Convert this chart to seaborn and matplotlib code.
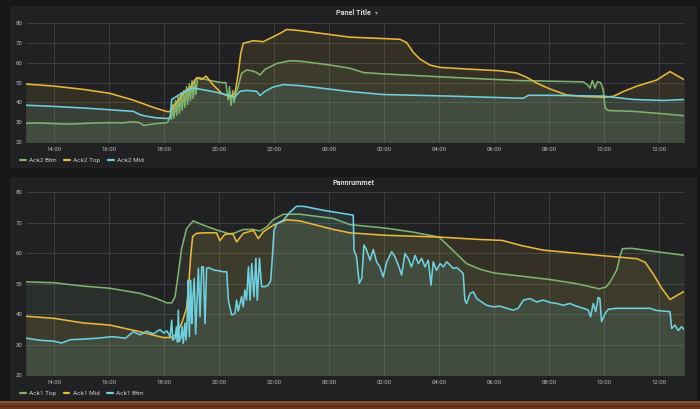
import pandas as pd
import matplotlib
matplotlib.use("Agg")
import matplotlib.pyplot as plt
import matplotlib.dates as mdates
from matplotlib.lines import Line2D
from matplotlib.patches import Rectangle
import seaborn as sns

# Times are hours since midnight of day 1 (values above 24 are the next day)

# ---- Panel Title ----
ack2_btm_t = [12.97, 13.5, 14.0, 14.5, 15.0, 15.5, 16.0, 16.5, 16.88, 17.1, 17.27, 17.5, 17.8, 18.1,
              18.15, 18.22, 18.27, 18.32, 18.36, 18.42, 18.46, 18.52, 18.56, 18.62, 18.66, 18.72, 18.76,
              18.82, 18.86, 18.92, 18.96, 19.02, 19.06, 19.12, 19.16, 19.22, 19.3, 19.4, 19.55, 19.7,
              19.9, 20.1, 20.25, 20.3, 20.34, 20.38, 20.44, 20.5, 20.55, 20.6, 20.7, 20.82, 21.0, 21.2,
              21.37, 21.49, 21.67, 21.9, 22.1, 22.58, 23.0, 24.04, 24.76, 25.25, 26.0, 28.4, 30.8, 33.25,
              33.4, 33.49, 33.58, 33.67, 33.76, 33.88, 33.97, 34.04, 34.16, 35.07, 36.2, 36.92]
ack2_btm_v = [29.5, 29.6, 29.3, 29.0, 29.3, 29.6, 29.8, 29.7, 30.2, 29.8, 28.4, 28.9, 29.4, 29.7,
              30.5, 33, 31.5, 39, 32, 41, 33.5, 43, 34.5, 45, 36, 46, 37.5,
              48, 39, 49.5, 41, 51, 42, 51.5, 44, 52.5, 52.5, 52.0, 51.5, 51.0,
              50.5, 50.0, 50.0, 44.0, 41.3, 48.0, 38.5, 46.0, 40.0, 44.0, 48.0, 54.7, 56.4, 56.0,
              55.1, 53.9, 56.7, 58.3, 59.7, 61.1, 60.8, 58.9, 57.3, 55.1, 54.4, 52.7, 51.1, 50.4,
              48.9, 47.2, 51.1, 47.2, 50.5, 50.0, 46.5, 37.2, 35.9, 35.5, 34.2, 33.3]

ack2_top_t = [12.97, 13.97, 15.06, 16.03, 16.88, 17.61, 18.1, 18.22, 18.34, 18.52, 18.76, 19.0, 19.19,
              19.37, 19.53, 19.79, 20.1, 20.4, 20.58, 20.7, 20.79, 20.88, 21.25, 21.61, 21.97, 22.22,
              22.46, 22.94, 24.16, 24.76, 25.97, 26.58, 26.82, 27.07, 27.31, 27.67, 28.04, 29.0, 30.22,
              30.82, 31.19, 31.55, 32.04, 32.64, 33.25, 33.97, 34.34, 34.7, 35.19, 35.91, 36.4, 36.7, 36.92]
ack2_top_v = [49.3, 48.3, 46.6, 44.6, 41.2, 37.5, 35.4, 35.4, 37.9, 41.2, 45.4, 48.3, 52.6,
              51.6, 53.3, 48.8, 44.6, 42.9, 44.6, 54.7, 64.8, 69.9, 71.2, 70.7, 73.2, 74.9,
              76.9, 76.3, 74.1, 73.0, 72.3, 71.9, 70.3, 65.2, 61.9, 58.9, 57.7, 56.9, 56.0,
              54.9, 52.7, 49.8, 46.8, 43.8, 43.0, 42.6, 43.1, 45.5, 48.2, 51.3, 55.6, 53.2, 51.5]

ack2_mid_t = [12.97, 13.97, 15.06, 16.03, 16.88, 17.13, 17.37, 17.73, 18.1, 18.22, 18.28, 18.46, 18.76,
              19.06, 19.55, 20.01, 20.35, 20.58, 20.76, 21.0, 21.37, 21.49, 21.67, 21.97, 22.34, 22.94,
              24.16, 24.76, 25.97, 28.4, 30.82, 31.07, 31.25, 32.04, 33.97, 35.07, 36.16, 36.92]
ack2_mid_v = [38.6, 38.0, 37.2, 36.3, 35.5, 33.8, 33.0, 32.2, 31.9, 32.2, 41.5, 43.1, 45.6,
              47.3, 46.1, 44.8, 43.5, 42.8, 45.6, 46.1, 45.6, 43.5, 45.6, 47.8, 49.0, 48.5,
              46.5, 45.5, 44.0, 43.2, 42.2, 42.1, 43.6, 43.6, 43.2, 41.5, 41.0, 41.5]

# ---- Pannrummet ----
ack1_top_t = [12.97, 14.0, 15.06, 16.03, 17.13, 17.73, 18.1, 18.28, 18.4, 18.52, 18.64, 18.82, 19.06,
              19.3, 19.67, 20.03, 20.45, 20.88, 21.25, 21.49, 21.73, 21.97, 22.34, 22.94, 24.16, 24.76,
              26.0, 27.0, 28.0, 28.5, 29.0, 29.5, 30.0, 32.0, 33.0, 33.83, 34.08, 34.25, 34.46, 34.58,
              34.67, 35.0, 35.5, 36.0, 36.92]
ack1_top_v = [50.6, 50.3, 49.2, 48.5, 46.8, 45.1, 43.7, 43.7, 45.7, 53.3, 61.5, 68.1, 70.6,
              69.7, 68.4, 67.3, 66.2, 67.8, 67.8, 67.3, 68.6, 71.0, 72.8, 72.8, 71.4, 69.4,
              68.3, 67.0, 65.3, 61.0, 56.6, 54.7, 53.5, 51.4, 50.0, 48.3, 48.9, 51.0, 54.4, 59.0,
              61.5, 61.6, 61.0, 60.4, 59.3]

ack1_mid_t = [12.97, 14.0, 15.06, 16.03, 17.13, 17.61, 17.97, 18.28, 18.46, 18.64, 18.82, 18.9, 18.97,
              19.04, 19.18, 19.43, 19.91, 20.03, 20.21, 20.5, 20.64, 20.88, 21.25, 21.43, 21.61, 21.97,
              22.46, 22.94, 24.16, 24.76, 26.0, 28.0, 29.5, 30.3, 31.0, 31.8, 33.8, 35.2, 35.5, 35.8,
              36.1, 36.4, 36.92]
ack1_mid_v = [39.3, 38.6, 37.1, 36.4, 34.2, 33.1, 32.3, 32.3, 33.6, 36.9, 41.9, 50.0, 59.0,
              65.5, 66.5, 66.7, 66.7, 64.1, 66.2, 66.5, 63.7, 66.5, 67.5, 64.8, 67.0, 69.2,
              71.0, 70.6, 67.8, 66.7, 65.9, 65.3, 64.5, 64.2, 62.5, 61.0, 59.3, 58.2, 57.0, 53.0,
              48.5, 44.8, 47.5]

ack1_btm_t = [12.97, 13.5, 14.0, 14.27, 14.6, 15.1, 15.6, 16.1, 16.6, 16.88, 17.13, 17.37, 17.61, 17.85,
              18.0, 18.1, 18.2, 18.22, 18.28, 18.32, 18.4, 18.45, 18.49, 18.52, 18.56, 18.62, 18.66,
              18.7, 18.76, 18.8, 18.85, 18.88, 18.92, 18.97, 19.01, 19.04, 19.1, 19.15, 19.25, 19.31,
              19.37, 19.43, 19.49, 19.55, 19.61, 19.8, 20.0, 20.15, 20.28, 20.34, 20.46, 20.58, 20.64,
              20.7, 20.82, 20.88, 20.94, 21.0, 21.07, 21.13, 21.19, 21.27, 21.34, 21.39, 21.47, 21.55,
              21.67, 21.79, 21.88, 21.94, 22.0, 22.1, 22.34, 22.58, 22.82, 23.07, 23.79, 24.88, 24.91,
              25.0, 25.1, 25.19, 25.27, 25.37, 25.49, 25.61, 25.73, 25.85, 25.97, 26.1, 26.28, 26.4,
              26.52, 26.64, 26.76, 26.88, 27.0, 27.13, 27.25, 27.37, 27.49, 27.61, 27.71, 27.79, 27.91,
              28.04, 28.16, 28.28, 28.4, 28.52, 28.64, 28.76, 28.88, 28.94, 29.0, 29.13, 29.25, 29.37,
              29.55, 29.73, 29.97, 30.22, 30.46, 30.7, 30.88, 31.07, 31.31, 31.55, 31.79, 32.04, 32.28,
              32.52, 32.76, 33.0, 33.25, 33.43, 33.51, 33.61, 33.7, 33.79, 33.85, 33.91, 34.04, 34.16,
              34.46, 35.07, 35.67, 35.91, 36.4, 36.46, 36.58, 36.7, 36.82, 36.92]
ack1_btm_v = [32.1, 31.4, 31.1, 30.5, 31.6, 31.8, 32.1, 32.6, 32.1, 34.2, 33.2, 34.4, 33.5, 34.9,
              33.8, 34.5, 33.0, 32.6, 38.0, 31.5, 32.0, 35.8, 30.8, 41.3, 31.0, 32.5, 36.0,
              30.4, 37.0, 31.5, 40.0, 51.1, 32.6, 51.1, 36.9, 44.0, 51.7, 33.4, 55.0, 39.1,
              55.5, 55.5, 36.9, 55.0, 55.3, 54.5, 54.2, 53.9, 53.9, 44.6, 39.7, 40.2, 44.6,
              41.0, 45.7, 42.4, 47.9, 44.6, 55.5, 44.6, 56.6, 45.7, 58.3, 44.6, 58.3, 49.0,
              49.0, 49.5, 51.0, 58.8, 67.5, 69.7, 70.8, 73.5, 75.4, 75.4, 74.1, 72.5, 61.0,
              58.8, 50.1, 51.7, 62.7, 61.0, 57.7, 61.2, 57.2, 55.5, 52.2, 57.2, 60.5, 58.8,
              56.1, 52.8, 59.9, 58.3, 55.5, 59.3, 56.6, 58.3, 55.5, 57.7, 49.5, 57.2, 54.4,
              56.6, 55.5, 57.2, 56.1, 55.0, 55.3, 54.4, 53.3, 44.6, 43.5, 46.8, 47.3, 45.1,
              44.0, 42.9, 42.4, 42.6, 41.9, 41.3, 41.9, 44.6, 45.1, 44.0, 44.6, 43.8, 43.5,
              42.9, 43.5, 42.6, 41.9, 41.3, 39.1, 43.5, 40.8, 45.5, 45.1, 37.5, 40.2, 41.6,
              41.9, 41.9, 41.9, 41.2, 40.8, 35.3, 36.4, 34.6, 35.9, 34.8]

x_start, x_end = 12.97, 36.92
y_ticks = [20, 30, 40, 50, 60, 70, 80]

GREEN, YELLOW, CYAN = "#7EB26D", "#EAB839", "#6ED0E0"
PAGE_BG, PANEL_BG, GRID = "#161719", "#212124", "#3d3d40"
TEXT = "#b9bcbf"

base_day = pd.Timestamp("2019-01-10")


def to_time(hours):
    return base_day + pd.to_timedelta(pd.Series(hours), unit="h")


W, H = 700, 409


def box(x0, y0, x1, y1):
    # pixel box (top-left origin) -> figure fraction [l, b, w, h]
    return [x0 / W, (H - y1) / H, (x1 - x0) / W, (y1 - y0) / H]


sns.set_theme(style="dark")
plt.rcParams["font.family"] = ["Roboto", "DejaVu Sans"]

fig = plt.figure(figsize=(7, 4.09), dpi=100, facecolor=PAGE_BG)

# panel backgrounds and the wooden desk strip at the bottom (behind the axes)
def add_rect(b, color):
    fig.patches.append(Rectangle((b[0], b[1]), b[2], b[3], transform=fig.transFigure,
                                 facecolor=color, edgecolor="none", zorder=-5))


add_rect(box(10, 6, 697, 168), PANEL_BG)
add_rect(box(10, 177, 697, 400), PANEL_BG)
add_rect(box(0, 401, 700, 409), "#6a3a1c")
add_rect(box(0, 401, 700, 403), "#8c5628")
add_rect(box(0, 406, 700, 407), "#4a2812")


def draw_panel(ax, series, title, legend_y, title_y, arrow=False):
    frames = []
    for name, t, v, c in series:
        frames.append(pd.DataFrame({"time": to_time(t), "value": v, "series": name}))
    df = pd.concat(frames, ignore_index=True)
    palette = {name: c for name, _, _, c in series}
    sns.lineplot(data=df, x="time", y="value", hue="series", palette=palette,
                 estimator=None, sort=False, legend=False, linewidth=1.15, ax=ax)
    for name, t, v, c in series:
        ax.fill_between(to_time(t), v, 0, color=c, alpha=0.1, linewidth=0)

    ax.set_facecolor("none")
    ax.set_xlim(to_time([x_start])[0], to_time([x_end])[0])
    ax.set_ylim(20, 80)
    ax.set_yticks(y_ticks)
    ax.xaxis.set_major_locator(mdates.HourLocator(byhour=range(0, 24, 2)))
    ax.xaxis.set_major_formatter(mdates.DateFormatter("%H:%M"))
    ax.set_xlabel("")
    ax.set_ylabel("")
    ax.grid(True, color=GRID, linewidth=0.7)
    for s in ax.spines.values():
        s.set_visible(False)
    ax.tick_params(axis="both", length=0, labelsize=4.3, labelcolor=TEXT)
    ax.tick_params(axis="x", pad=3.5)
    ax.tick_params(axis="y", pad=2.4)

    handles = [Line2D([], [], color=c, linewidth=1.6) for _, _, _, c in series]
    labels = [name for name, _, _, _ in series]
    ax.legend(handles, labels, loc="center left", bbox_to_anchor=(20 / W, legend_y),
              bbox_transform=fig.transFigure, ncol=3, frameon=False, fontsize=4.6,
              labelcolor="#c8c9ca", handlelength=0.9, handletextpad=0.5,
              columnspacing=1.2, borderpad=0, borderaxespad=0)

    fig.text(353.5 / W, title_y, title, ha="center", va="center", fontsize=5.1,
             fontweight="bold", color="#d8d9da")
    if arrow:
        fig.text(377 / W, title_y, "\u25be", ha="center", va="center", fontsize=4.5,
                 color="#8e8e8e")


ax1 = fig.add_axes(box(25.7, 23.3, 684.3, 142))
draw_panel(ax1,
           [("Ack2 Btm", ack2_btm_t, ack2_btm_v, GREEN),
            ("Ack2 Top", ack2_top_t, ack2_top_v, YELLOW),
            ("Ack2 Mid", ack2_mid_t, ack2_mid_v, CYAN)],
           "Panel Title", (H - 160.7) / H, (H - 12.7) / H, arrow=True)

ax2 = fig.add_axes(box(25.7, 192.3, 684.3, 375))
draw_panel(ax2,
           [("Ack1 Top", ack1_top_t, ack1_top_v, GREEN),
            ("Ack1 Mid", ack1_mid_t, ack1_mid_v, YELLOW),
            ("Ack1 Btm", ack1_btm_t, ack1_btm_v, CYAN)],
           "Pannrummet", (H - 393.3) / H, (H - 182.7) / H)

fig.savefig("out.png", dpi=100, facecolor=PAGE_BG)
